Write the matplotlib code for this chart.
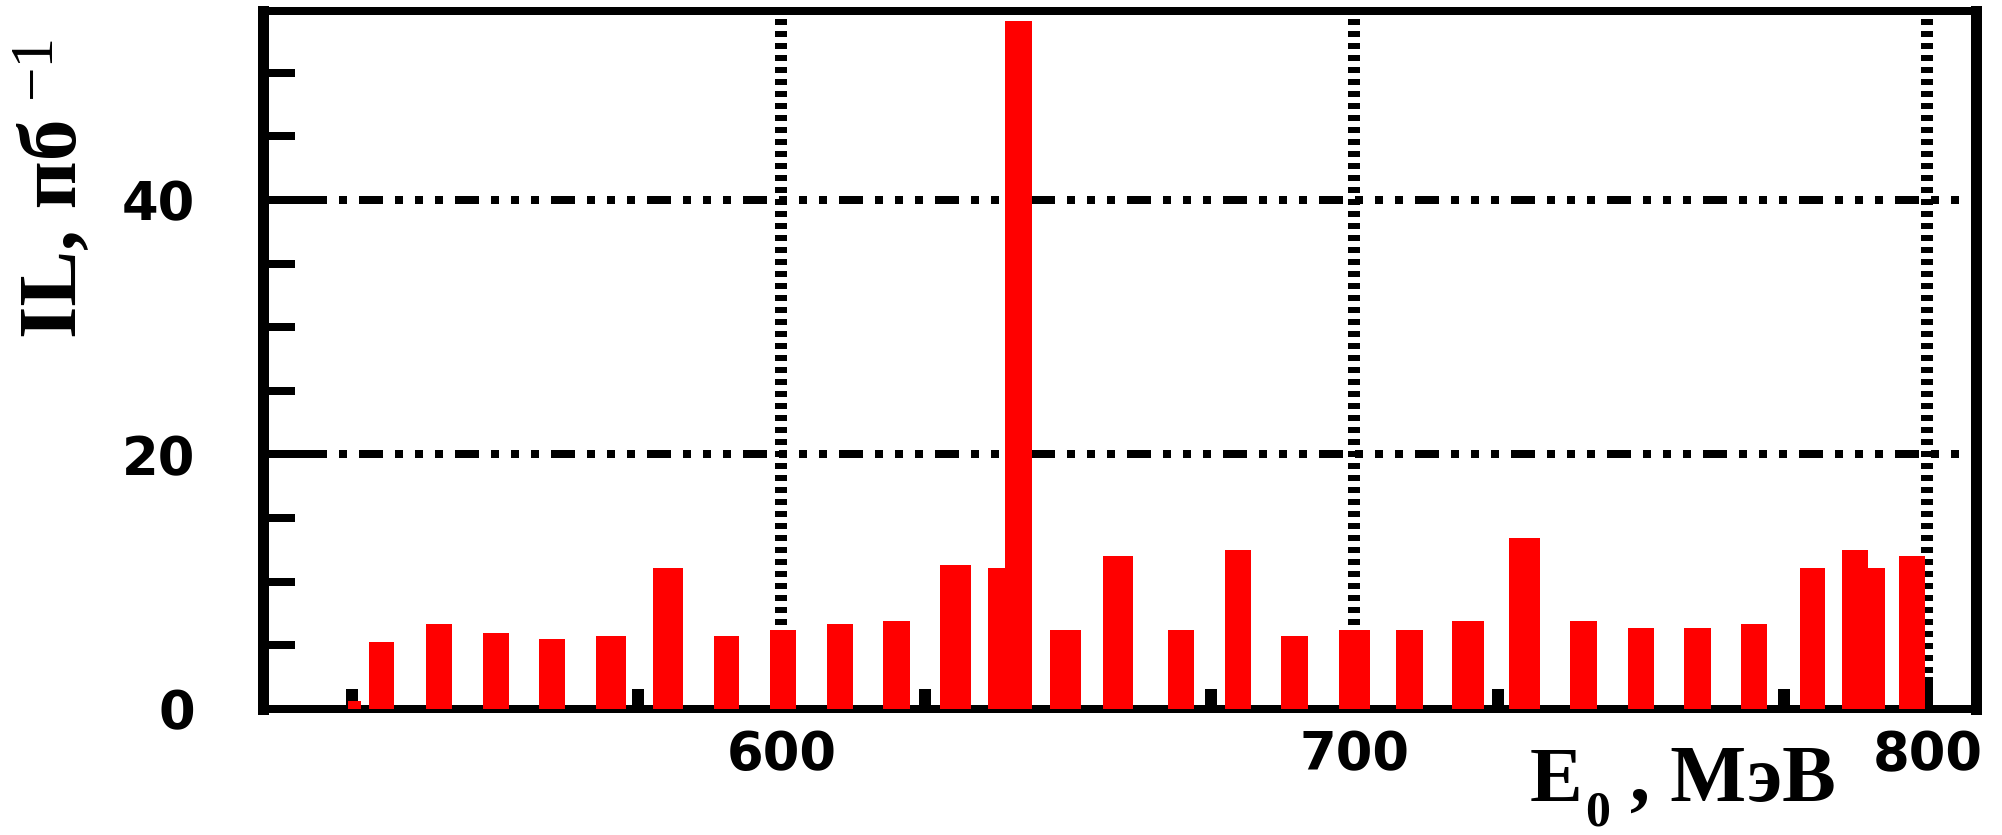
import numpy as np
import matplotlib
matplotlib.use("Agg")
import matplotlib.pyplot as plt
from matplotlib.ticker import MultipleLocator, FixedLocator
from matplotlib.transforms import IdentityTransform

# integrated luminosity per energy point
energy = [525.5, 530.2, 540.2, 550.2, 559.9, 570.2, 580.2, 590.4, 600.2, 610.2,
          620.1, 630.3, 638.3, 641.4, 649.5, 658.7, 669.8, 679.7, 689.5, 700.0,
          709.6, 719.8, 729.7, 740.0, 750.0, 759.9, 769.8, 780.0, 787.4, 790.4,
          797.3]
bin_w = [2.3, 4.5, 4.5, 4.5, 4.5, 5.3, 5.3, 4.5, 4.5, 4.5,
         4.7, 5.4, 4.5, 4.7, 5.4, 5.3, 4.5, 4.5, 4.7, 5.3,
         4.6, 5.5, 5.3, 4.6, 4.6, 4.6, 4.6, 4.4, 4.5, 4.5,
         4.5]
lumi = [0.6, 5.3, 6.7, 6.0, 5.5, 5.7, 11.1, 5.7, 6.2, 6.7,
        6.9, 11.3, 11.1, 54.1, 6.2, 12.0, 6.2, 12.5, 5.7, 6.2,
        6.2, 6.9, 13.4, 6.9, 6.4, 6.4, 6.7, 11.1, 12.5, 11.1,
        12.0]

x_major = [600, 700, 800]
y_major = [0, 20, 40]

DPI = 100
W, H = 2002, 835
PT = 72.0 / DPI  # points per pixel

fig = plt.figure(figsize=(W / DPI, H / DPI), dpi=DPI)
ax = fig.add_axes([263 / W, 126 / H, (1976 - 263) / W, (824 - 126) / H])

bars = ax.bar(energy, lumi, width=bin_w, color="#ff0000", linewidth=0)
# taller bars go on top where neighbours overlap
for p, v in zip(bars, lumi):
    p.set_zorder(3 + v / 100.0)

ax.set_xlim(509.5, 808.5)
ax.set_ylim(0, 54.85)

for side in ("left", "right"):
    ax.spines[side].set_linewidth(11 * PT)
for side in ("top", "bottom"):
    ax.spines[side].set_linewidth(8 * PT)

ax.xaxis.set_major_locator(FixedLocator(x_major))
ax.xaxis.set_minor_locator(MultipleLocator(25))
ax.yaxis.set_major_locator(FixedLocator(y_major))
ax.yaxis.set_minor_locator(MultipleLocator(5))

ax.tick_params(which="both", direction="in", top=False, right=False, color="black")
ax.tick_params(axis="x", which="major", length=32 * PT, width=12 * PT, pad=20 * PT)
ax.tick_params(axis="x", which="minor", length=20 * PT, width=12 * PT)
ax.tick_params(axis="y", which="major", length=56 * PT, width=8 * PT, pad=68 * PT)
ax.tick_params(axis="y", which="minor", length=32 * PT, width=8 * PT)

for lab in ax.get_xticklabels() + ax.get_yticklabels():
    lab.set_fontfamily("DejaVu Sans")
    lab.set_fontweight("bold")
    lab.set_fontsize(38)

ax.xaxis.grid(True, which="major", color="black", linewidth=12 * PT,
              linestyle=(0, (0.5, 0.5)))
ax.yaxis.grid(True, which="major", color="black", linewidth=8 * PT,
              linestyle=(0, (3, 1.5, 1, 1.5, 1, 1.5, 1, 1.5)))

serif = "Liberation Serif"
ident = IdentityTransform()

# x-axis title: E_0, МэВ
fig.canvas.draw()
r = fig.canvas.get_renderer()
t1 = fig.text(1530, H - 801, "E", transform=ident, family=serif, weight="bold",
              fontsize=57, ha="left", va="baseline")
bb = t1.get_window_extent(r)
t2 = fig.text(bb.x1 + 2, H - 826, "0", transform=ident, family=serif, weight="bold",
              fontsize=36, ha="left", va="baseline")
bb = t2.get_window_extent(r)
fig.text(bb.x1 + 20, H - 801, ", МэВ", transform=ident, family=serif, weight="bold",
         fontsize=58, ha="left", va="baseline")

# y-axis title: IL, пб^-1
t3 = fig.text(75, H - 338, "IL, пб", transform=ident, family=serif, weight="bold",
              fontsize=60, rotation=90, rotation_mode="anchor", ha="left", va="baseline")
bb = t3.get_window_extent(r)
fig.text(50, bb.y1 + 20, "\u22121", transform=ident, family=serif,
         fontsize=44, rotation=90, rotation_mode="anchor", ha="left", va="baseline")

fig.savefig("out.png", dpi=DPI)
